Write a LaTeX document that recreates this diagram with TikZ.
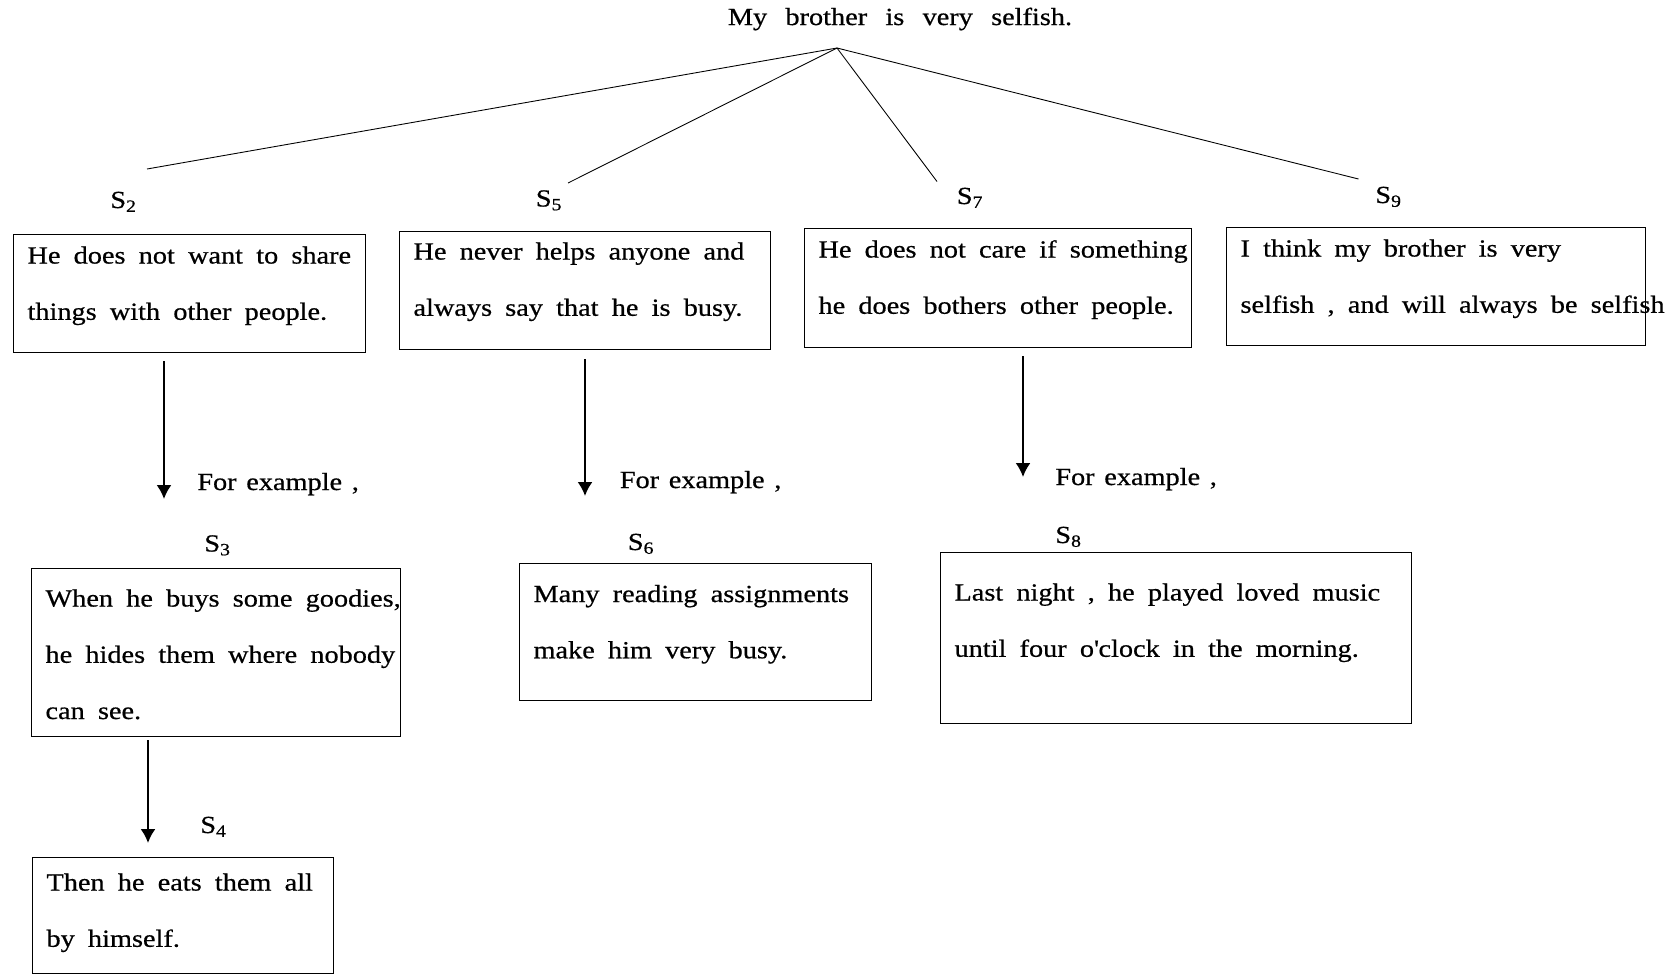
\documentclass[tikz,border=0pt]{standalone}
\usepackage{fontspec}
\setmainfont[FakeStretch=1.15,FakeBold=0.6]{Liberation Serif}
\usepackage{tikz}
\usetikzlibrary{arrows.meta}

\begin{document}
\begin{tikzpicture}[>={Latex[length=0.28cm,width=0.3cm]},
    txt/.style={font=\fontsize{14}{32}\selectfont, inner sep=0pt,
        execute at begin node={\spaceskip=5.5pt\relax}},
    sent/.style n args={3}{draw, line width=0.6pt, anchor=north west,
        text width=#1, text height=#2, text depth=#3,
        inner xsep=0.28cm, inner ysep=0pt,
        font=\fontsize{14}{32}\selectfont,
        execute at begin node={\spaceskip=7.5pt plus 1pt minus 2pt\baselineskip=32pt\relax}},
    arr/.style={->, line width=1.1pt}]
    \useasboundingbox (0,0) rectangle (33.48,-19.5);
    % main claim
    \node[txt, anchor=base] (title) at (18.0,-0.50) {\spaceskip=10.4pt My brother is very selfish.};
    \coordinate (apex) at (16.74,-0.96);
    \coordinate (e2) at (2.94,-3.38);
    \coordinate (e5) at (11.36,-3.66);
    \coordinate (e7) at (18.74,-3.63);
    \coordinate (e9) at (27.17,-3.58);
    \foreach \e in {e2,e5,e7,e9}{
        \draw[line width=0.5pt] (apex)--(\e);
    }
    \node[txt, anchor=base west] (s2) at (2.20,-4.16) {S\textsubscript{2}};
    \node[txt, anchor=base west] (s5) at (10.71,-4.13) {S\textsubscript{5}};
    \node[txt, anchor=base west] (s7) at (19.13,-4.08) {S\textsubscript{7}};
    \node[txt, anchor=base west] (s9) at (27.50,-4.06) {S\textsubscript{9}};
    % supporting sentences
    \node[sent={6.48cm}{0.58cm}{1.78cm}] (b2) at (0.26,-4.68)
        {\mbox{He does not want to share}\\ things with other people.};
    \node[sent={6.86cm}{0.56cm}{1.80cm}] (b5) at (7.98,-4.62)
        {He never helps anyone and\\ always say that he is busy.};
    \node[sent={7.18cm}{0.58cm}{1.80cm}] (b7) at (16.08,-4.56)
        {\mbox{He does not care if something}\\ \mbox{he does bothers other people.}};
    \node[sent={7.82cm}{0.58cm}{1.78cm}] (b9) at (24.52,-4.54)
        {I think my brother is very\\ \mbox{selfish , and will always be selfish}};
    % examples
    \coordinate (a2s) at (3.28,-7.22);
    \coordinate (a2e) at (3.28,-9.98);
    \coordinate (a5s) at (11.70,-7.18);
    \coordinate (a5e) at (11.70,-9.92);
    \coordinate (a7s) at (20.46,-7.12);
    \coordinate (a7e) at (20.46,-9.54);
    \draw[arr] (a2s)--(a2e);
    \draw[arr] (a5s)--(a5e);
    \draw[arr] (a7s)--(a7e);
    \foreach \n/\x/\y in {1/3.94/-9.80,2/12.39/-9.76,3/21.10/-9.70}{
        \node[txt, anchor=base west] (fe\n) at (\x,\y) {For example ,};
    }
    \node[txt, anchor=base west] (s3) at (4.08,-11.03) {S\textsubscript{3}};
    \node[txt, anchor=base west] (s6) at (12.55,-11.00) {S\textsubscript{6}};
    \node[txt, anchor=base west] (s8) at (21.10,-10.86) {S\textsubscript{8}};
    \node[sent={6.82cm}{0.76cm}{2.60cm}] (b3) at (0.62,-11.36)
        {\mbox{When he buys some goodies,}\\ \mbox{he hides them where nobody}\\ can see.};
    \node[sent={6.48cm}{0.77cm}{1.97cm}] (b6) at (10.38,-11.26)
        {Many reading assignments\\ make him very busy.};
    \node[sent={8.86cm}{0.96cm}{2.46cm}] (b8) at (18.80,-11.04)
        {Last night , he played loved music\\ until four o\textquotesingle clock in the morning.};
    % last step
    \coordinate (a3s) at (2.96,-14.80);
    \coordinate (a3e) at (2.96,-16.86);
    \draw[arr] (a3s)--(a3e);
    \node[txt, anchor=base west] (s4) at (4.00,-16.66) {S\textsubscript{4}};
    \node[sent={5.46cm}{0.66cm}{1.66cm}] (b4) at (0.64,-17.14)
        {Then he eats them all\\ by himself.};
\end{tikzpicture}
\end{document}
